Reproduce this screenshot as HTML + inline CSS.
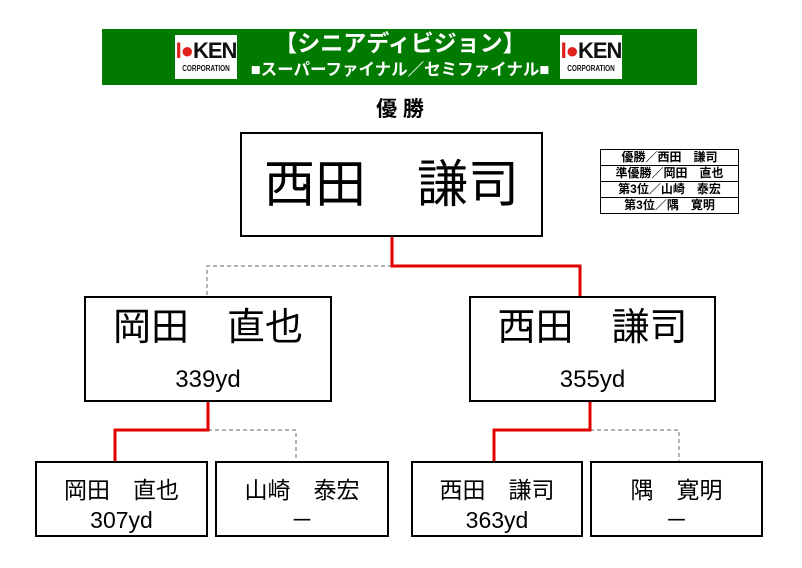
<!DOCTYPE html>
<html><head><meta charset="utf-8"><style>
body{margin:0;width:802px;height:568px;background:#fff;position:relative;overflow:hidden;font-family:"Liberation Sans","Noto Sans CJK JP",sans-serif;}
.a{position:absolute;box-sizing:border-box;}
.box{position:absolute;box-sizing:border-box;border:2px solid #000;background:#fff;text-align:center;color:#000;}
.logo{position:absolute;background:#fff;width:62px;height:44px;text-align:center;font-weight:bold;}
.logo .k{font-size:22px;line-height:26px;margin-top:3px;color:#111;letter-spacing:-1px}
.logo .k span{color:#e0201a}
.logo .c{font-size:8px;line-height:10px;color:#111;transform:scaleX(.8)}
table{position:absolute;left:600px;top:149px;border-collapse:collapse;width:139px;}
td{border:1px solid #000;height:15px;font-size:12px;font-weight:bold;text-align:center;padding:0;line-height:15px;}
</style></head><body>
<div class="a" style="left:102px;top:29px;width:595px;height:56px;background:#007b00;"></div>
<div class="logo" style="left:175px;top:35px;"><div class="k"><span>I●</span>KEN</div><div class="c">CORPORATION</div></div>
<div class="logo" style="left:560px;top:35px;"><div class="k"><span>I●</span>KEN</div><div class="c">CORPORATION</div></div>
<div class="a" style="left:230px;top:29px;width:340px;text-align:center;color:#fff;font-size:23px;line-height:28px;font-weight:bold;">【シニアディビジョン】</div>
<div class="a" style="left:230px;top:59px;width:340px;text-align:center;color:#fff;font-size:16.5px;line-height:22px;font-weight:bold;">■スーパーファイナル／セミファイナル■</div>
<div class="a" style="left:330px;top:96px;width:140px;text-align:center;font-size:21px;font-weight:bold;line-height:28px;">優 勝</div>
<table><tr><td>優勝／西田　謙司</td></tr><tr><td>準優勝／岡田　直也</td></tr><tr><td>第3位／山崎　泰宏</td></tr><tr><td>第3位／隅　寛明</td></tr></table>
<svg class="a" style="left:0;top:0" width="802" height="568">
<g fill="none" stroke="#999" stroke-width="1.5" stroke-dasharray="4,3">
<polyline points="392,266 207,266 207,296"/>
<polyline points="208,430 296,430 296,461"/>
<polyline points="590,430 679,430 679,461"/>
</g>
<g fill="none" stroke="#e00000" stroke-width="3">
<polyline points="392,237 392,266 580,266 580,296"/>
<polyline points="208,402 208,430 115,430 115,461"/>
<polyline points="590,402 590,430 494,430 494,461"/>
</g>
</svg>
<div class="box" style="left:240px;top:132px;width:303px;height:105px;font-size:51px;line-height:101px;">西田　謙司</div>
<div class="box" style="left:84px;top:296px;width:248px;height:106px;"><div style="font-size:38px;line-height:50px;margin-top:5px;">岡田　直也</div><div style="font-size:24px;line-height:30px;margin-top:12px;">339yd</div></div>
<div class="box" style="left:469px;top:296px;width:247px;height:106px;"><div style="font-size:38px;line-height:50px;margin-top:5px;">西田　謙司</div><div style="font-size:24px;line-height:30px;margin-top:12px;">355yd</div></div>
<div class="box" style="left:35px;top:461px;width:173px;height:76px;font-size:23px;line-height:30px;padding-top:12px;">岡田　直也<br>307yd</div>
<div class="box" style="left:215px;top:461px;width:174px;height:76px;font-size:23px;line-height:30px;padding-top:12px;">山崎　泰宏<br>－</div>
<div class="box" style="left:411px;top:461px;width:172px;height:76px;font-size:23px;line-height:30px;padding-top:12px;">西田　謙司<br>363yd</div>
<div class="box" style="left:590px;top:461px;width:173px;height:76px;font-size:23px;line-height:30px;padding-top:12px;">隅　寛明<br>－</div>
</body></html>
